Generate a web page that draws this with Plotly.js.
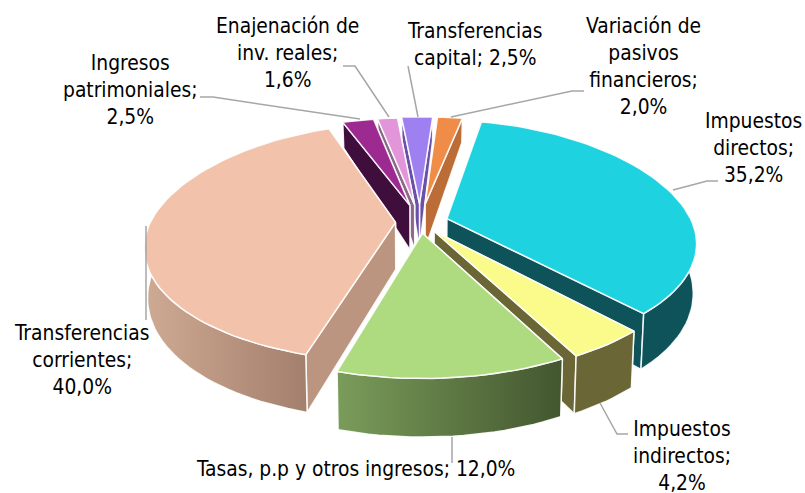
<!DOCTYPE html>
<html><head><meta charset="utf-8">
<script src="https://cdn.plot.ly/plotly-3.0.1.min.js"></script>
<style>html,body{margin:0;padding:0;background:#fff}#c{width:805px;height:493px}</style>
</head><body><div id="c"></div>
<script>
const categories=["Impuestos directos","Impuestos indirectos","Tasas, p.p y otros ingresos","Transferencias corrientes","Ingresos patrimoniales","Enajenación de inv. reales","Transferencias capital","Variación de pasivos financieros"];
const values=[35.2,4.2,12.0,40.0,2.5,1.6,2.5,2.0];
const labelLines=[["Impuestos","directos;"],["Impuestos","indirectos;"],["Tasas, p.p y otros ingresos;"],["Transferencias","corrientes;"],["Ingresos","patrimoniales;"],["Enajenación de","inv. reales;"],["Transferencias","capital;"],["Variación de","pasivos","financieros;"]];
const valueInline=[false,false,true,false,false,false,true,false];
const topColors=["#1FD2E0","#FBFB8C","#AEDB80","#F3C2AA","#9C2A90","#E295D8","#9E80F0","#EE8C48"];
const sideColors=["#0D5359","#6A6636","#4F6A38","#BB957F","#400E3C","#8A6A88","#6A50A8","#BC6C37"];
const wallGradients=[null,null,["#7A9C5A","#43562F"],["#CFAA93","#A37F6D"],null,null,null,null];
const explode=[0.115,0.1,0.1,0.1,0.16,0.16,0.17,0.17];
const backLift=[0.07,0,0,0.07,0,0,0,0];
const drawOrder=[6,5,4,7,0,3,1,2];
const labelX=[753,682,355,82,130,287,475,643];
const labelY=[148,456,469,360,90,53,44,66];
const leaders=[[[673,190],[707,181],[718,181]],[[600,403],[617,434],[628,434]],[[452,437],[452,463]],[[146,226],[146,320]],[[360,119],[213,97],[200,97]],[[389,117],[355,66],[343,66]],[[418,117],[408,66]],[[451,117],[572,91],[584,91]]];

const START=11,CX=420,CY=222,R=245,RY=111,K=0.2;
const FONT="DejaVu Sans Condensed, Tahoma, sans-serif";
let lift=0;
function topPt(u,v){const s=1/(1+K*v);const g=v>0?1+lift*v:1;return [CX+R*u*s,CY-RY*v*s*g];}
function botPt(u,v){const p=topPt(u,v);return [CX+(p[0]-CX)*0.988,p[1]+47-15*v-4*v*v];}
const rad=d=>d*Math.PI/180;
const total=values.reduce((a,b)=>a+b,0);
let acc=START;
const slices=values.map((val,i)=>{const a0=acc,a1=acc+val/total*360;acc=a1;
  const m=rad((a0+a1)/2),ou=explode[i]*Math.sin(m),ov=explode[i]*Math.cos(m);
  const arc=[];const n=Math.max(4,Math.ceil((a1-a0)/2));
  for(let j=0;j<=n;j++){const t=rad(a0+(a1-a0)*j/n);arc.push([ou+Math.sin(t),ov+Math.cos(t)]);}
  return {i,arc,tip:[ou,ov]};});
const traces=[];
function poly(pts,fill,grad){const t={type:'scatter',mode:'lines',x:pts.map(p=>p[0]).concat(pts[0][0]),y:pts.map(p=>p[1]).concat(pts[0][1]),
  fill:'toself',fillcolor:fill,line:{color:'rgba(255,255,255,0.9)',width:1.5},hoverinfo:'skip',showlegend:false};
  if(grad)t.fillgradient={type:'horizontal',colorscale:[[0,grad[0]],[1,grad[1]]]};
  traces.push(t);}
drawOrder.forEach(i=>{lift=backLift[i];const s=slices[i],A=s.arc,T=s.tip,c=sideColors[i],L=A[A.length-1],F=A[0];
  const quad=(p)=>[topPt(T[0],T[1]),topPt(p[0],p[1]),botPt(p[0],p[1]),botPt(T[0],T[1])];
  const faces=[F,L].sort((a,b)=>b[1]-a[1]);
  faces.forEach(p=>poly(quad(p),c));
  const front=A.filter(p=>p[1]-T[1]<0.05);
  if(front.length>1){poly(front.map(p=>topPt(p[0],p[1])).concat(front.slice().reverse().map(p=>botPt(p[0],p[1]))),wallGradients[i]?wallGradients[i][0]:c,wallGradients[i]);}
  poly([topPt(T[0],T[1])].concat(A.map(p=>topPt(p[0],p[1]))),topColors[i]);
});
leaders.forEach(l=>traces.push({type:'scatter',mode:'lines',x:l.map(p=>p[0]),y:l.map(p=>p[1]),line:{color:'#A6A6A6',width:1.5},hoverinfo:'skip',showlegend:false}));
const annotations=categories.map((c,i)=>{const v=values[i].toFixed(1).replace('.',',')+'%';
  const lines=labelLines[i].slice();
  if(valueInline[i])lines[lines.length-1]+=' '+v; else lines.push(v);
  return {x:labelX[i],y:labelY[i],xref:'x',yref:'y',text:lines.join('<br>'),showarrow:false,align:'center',xanchor:'center',yanchor:'middle',font:{family:FONT,size:20.8,color:'#000'}};});
Plotly.newPlot('c',traces,{width:805,height:493,margin:{l:0,r:0,t:0,b:0},paper_bgcolor:'#fff',plot_bgcolor:'#fff',showlegend:false,
 xaxis:{range:[0,805],visible:false,fixedrange:true},yaxis:{range:[493,0],visible:false,fixedrange:true},annotations},{displayModeBar:false,staticPlot:true});
</script></body></html>
